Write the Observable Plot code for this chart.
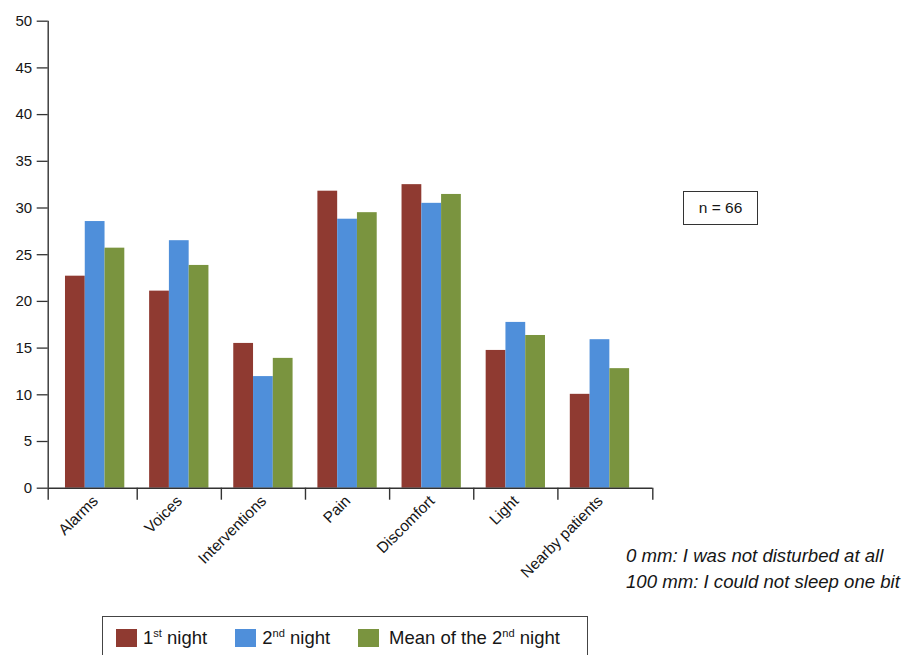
<!DOCTYPE html>
<html>
<head>
<meta charset="utf-8">
<script src="https://cdn.jsdelivr.net/npm/d3@7"></script>
<script src="https://cdn.jsdelivr.net/npm/@observablehq/plot@0.6"></script>
<style>
  html, body { margin: 0; padding: 0; background: #fff; }
  #wrap { position: relative; width: 905px; height: 655px; overflow: hidden; font-family: "Liberation Sans", Arial, Helvetica, sans-serif; color: #161616; }
  #nbox { position: absolute; left: 683px; top: 191px; width: 73px; height: 32px; border: 1px solid #333; text-align: center; line-height: 32px; font-size: 15.5px; }
  #notes { position: absolute; left: 626px; top: 543px; font-style: italic; font-size: 18.6px; line-height: 26px; white-space: nowrap; }
  #legend { position: absolute; left: 102px; top: 616px; width: 484px; height: 60px; border: 1px solid #444; box-sizing: content-box; }
  #legend .row { position: absolute; left: 13px; top: 11px; height: 20px; display: flex; align-items: center; gap: 28px; font-size: 18.5px; white-space: nowrap; }
  #legend .item { display: flex; align-items: center; }
  #legend .sw { width: 21px; height: 18px; margin-right: 6px; }
  #legend .item:last-child .sw { margin-right: 10px; }
  #legend sup { font-size: 0.6em; vertical-align: 0; position: relative; top: -0.62em; }
</style>
</head>
<body>
<div id="wrap">
  <div id="chart"></div>
  <div id="nbox"></div>
  <div id="notes"></div>
  <div id="legend"><div class="row"></div></div>
</div>
<script>
// ---- data ----
const categories = ["Alarms", "Voices", "Interventions", "Pain", "Discomfort", "Light", "Nearby patients"];
const seriesNames = ["1st night", "2nd night", "Mean of the 2nd night"];
const night1 = [22.7, 21.1, 15.5, 31.8, 32.5, 14.75, 10.05];
const night2 = [28.55, 26.5, 11.95, 28.8, 30.5, 17.75, 15.9];
const mean2 = [25.7, 23.85, 13.9, 29.5, 31.45, 16.35, 12.8];
const yTicks = [0, 5, 10, 15, 20, 25, 30, 35, 40, 45, 50];
const colors = ["#8f3a31", "#4f8fda", "#7a943f"];
const nLabel = "n = 66";
const notes = ["0 mm: I was not disturbed at all", "100 mm: I could not sleep one bit"];

// ---- layout ----
const W = 905, H = 605;
const mL = 47.7, mR = 252.7, mT = 20.7, y0px = 487.7, mB = H - y0px;
const padL = 0.058, padR = 0.128;           // extra axis length beyond the outer groups
const barW = 0.235;                          // bar width in category units
const groupPad = (1 - 3 * barW) / 2;
const font = '"Liberation Sans", Arial, Helvetica, sans-serif';
const axisColor = "#333";
const tickUnits = 12 / ((y0px - mT) / 50);   // 12px tick below the axis, in y units

const seriesValues = [night1, night2, mean2];
const rows = categories.flatMap((c, i) =>
  seriesValues.map((arr, k) => ({category: c, series: seriesNames[k], value: arr[i], ci: i, si: k}))
);
const bounds = [-padL, ...d3.range(1, categories.length), categories.length + padR];

const chart = Plot.plot({
  width: W, height: H,
  marginLeft: mL, marginRight: mR, marginTop: mT, marginBottom: mB,
  x: {domain: [-padL, categories.length + padR], axis: null},
  y: {domain: [0, 50], axis: null},
  color: {domain: seriesNames, range: colors},
  style: {fontFamily: font, fontSize: "15px", color: "#161616", background: "white", overflow: "visible"},
  marks: [
    Plot.rectY(rows, {
      x1: d => d.ci + groupPad + d.si * barW,
      x2: d => d.ci + groupPad + (d.si + 1) * barW,
      y1: 0, y2: "value", fill: "series"
    }),
    Plot.axisY({ticks: yTicks, label: null, tickSize: 11, tickPadding: 5, tickFormat: d => String(d), stroke: axisColor, strokeWidth: 1.3, fontSize: 15}),
    Plot.ruleX([-padL], {y1: 0, y2: 50, stroke: axisColor, strokeWidth: 1.4}),
    Plot.ruleY([0], {stroke: axisColor, strokeWidth: 1.4}),
    Plot.ruleX(bounds, {y1: 0, y2: -tickUnits, stroke: axisColor, strokeWidth: 1.4}),
    Plot.text(categories, {
      x: (d, i) => i + 0.5, y: 0, text: d => d,
      rotate: -45, textAnchor: "end", lineAnchor: "top",
      dx: -4, dy: 6, fontSize: 15.5, fill: "#161616"
    })
  ]
});
document.getElementById("chart").appendChild(chart);

document.getElementById("nbox").textContent = nLabel;
document.getElementById("notes").innerHTML = notes.map(t => `<div>${t}</div>`).join("");

const row = document.querySelector("#legend .row");
seriesNames.forEach((name, k) => {
  const item = document.createElement("div");
  item.className = "item";
  const sw = document.createElement("div");
  sw.className = "sw";
  sw.style.background = colors[k];
  const label = document.createElement("span");
  label.innerHTML = name.replace(/(\d)(st|nd|rd|th)/, "$1<sup>$2</sup>");
  item.appendChild(sw);
  item.appendChild(label);
  row.appendChild(item);
});
</script>
</body>
</html>
